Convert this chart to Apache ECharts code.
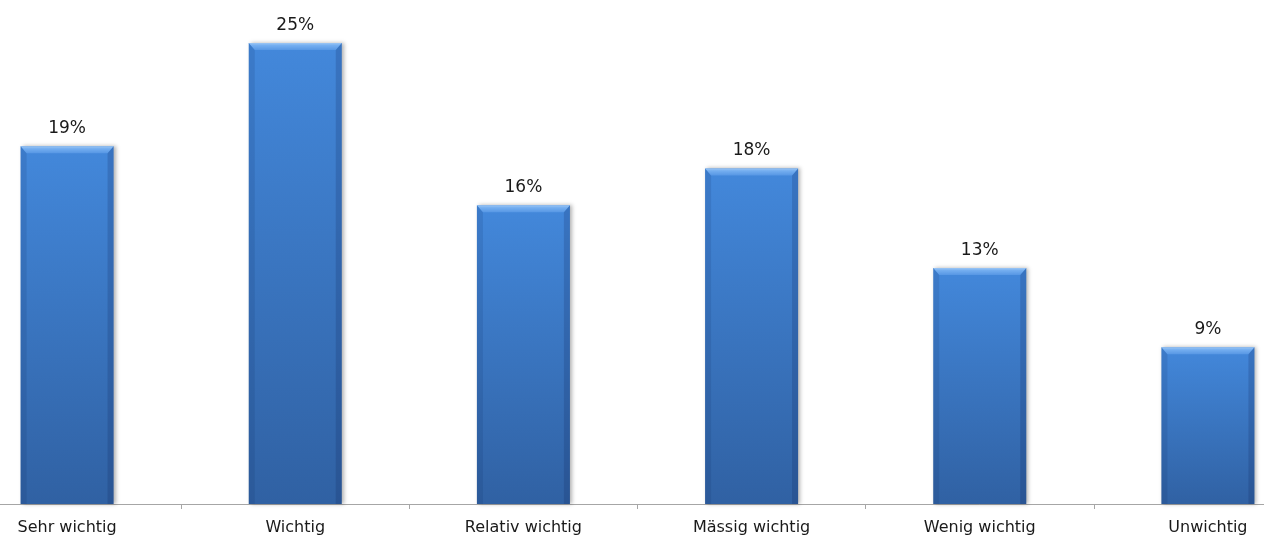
<!DOCTYPE html>
<html>
<head>
<meta charset="utf-8">
<script src="https://cdn.jsdelivr.net/npm/echarts@6/dist/echarts.min.js"></script>
<style>
html,body{margin:0;padding:0;background:#fff;overflow:hidden;width:1264px;height:542px;}
#chart{width:1369px;height:542px;margin-left:-47px;}
</style>
</head>
<body>
<div id="chart"></div>
<script>
var categories = ['Sehr wichtig', 'Wichtig', 'Relativ wichtig', 'Mässig wichtig', 'Wenig wichtig', 'Unwichtig'];
var values = [19.4, 25.0, 16.2, 18.2, 12.8, 8.5];

var chart = echarts.init(document.getElementById('chart'));
var fontFam = 'DejaVu Sans, Verdana, sans-serif';
var BW = 93;

function renderBar(params, api) {
  var cat = api.value(0), val = api.value(1);
  var top = api.coord([cat, val]);
  var base = api.coord([cat, 0]);
  var x0 = top[0] - BW / 2, x1 = top[0] + BW / 2;
  var y0 = top[1], y1 = base[1];
  var b = 6;
  return {
    type: 'group',
    children: [
      { type: 'rect', shape: { x: x0, y: y0, width: BW, height: y1 - y0 },
        style: { fill: new echarts.graphic.LinearGradient(0, 0, 0, 1, [
          { offset: 0, color: '#4388db' }, { offset: 1, color: '#3061a3' }]),
          shadowColor: 'rgba(0,0,0,0.30)', shadowBlur: 4, shadowOffsetX: 2, shadowOffsetY: 0 } },
      { type: 'polygon', shape: { points: [[x0, y0], [x0 + b, y0 + b], [x0 + b, y1], [x0, y1]] },
        style: { fill: 'rgba(10,30,80,0.12)' } },
      { type: 'polygon', shape: { points: [[x1, y0], [x1 - b, y0 + b], [x1 - b, y1], [x1, y1]] },
        style: { fill: 'rgba(10,30,80,0.18)' } },
      { type: 'polygon', shape: { points: [[x0, y0], [x1, y0], [x1 - b, y0 + b + 1], [x0 + b, y0 + b + 1]] },
        style: { fill: new echarts.graphic.LinearGradient(0, 0, 0, 1, [
          { offset: 0, color: '#9cc6f4' }, { offset: 0.35, color: '#74aef0' }, { offset: 1, color: '#5797e4' }]) } },
      { type: 'text', x: top[0], y: y0 - 9,
        style: { text: Math.round(val) + '%', fill: '#1a1a1a', font: '17px ' + fontFam,
          align: 'center', verticalAlign: 'bottom' } }
    ]
  };
}

chart.setOption({
  animation: false,
  backgroundColor: '#ffffff',
  grid: { left: 0, right: 0, top: 43, bottom: 38, containLabel: false },
  xAxis: {
    type: 'category',
    data: categories,
    boundaryGap: true,
    axisLine: { show: true, lineStyle: { color: '#a6a6a6', width: 1 } },
    axisTick: { show: true, length: 5, alignWithLabel: false, lineStyle: { color: '#a6a6a6' } },
    axisLabel: { color: '#1a1a1a', fontSize: 16, fontFamily: fontFam, margin: 16, interval: 0 },
    splitLine: { show: false }
  },
  yAxis: {
    type: 'value', min: 0, max: 25, show: false,
    splitLine: { show: false }
  },
  series: [{
    type: 'custom',
    renderItem: renderBar,
    clip: false,
    data: values.map(function (v, i) { return [i, v]; }),
    encode: { x: 0, y: 1 }
  }]
});
</script>
</body>
</html>
